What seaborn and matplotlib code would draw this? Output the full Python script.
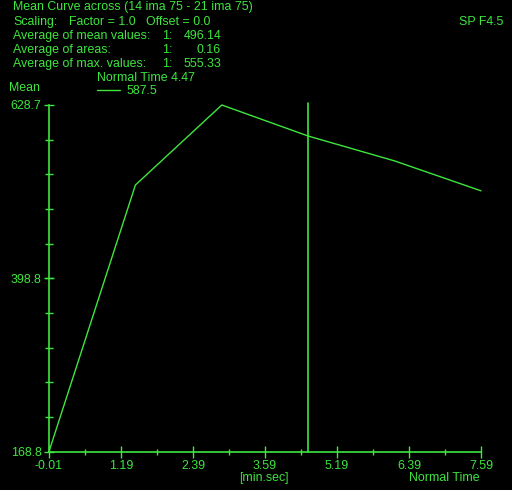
import numpy as np
import pandas as pd
import matplotlib
matplotlib.use('Agg')
import matplotlib.pyplot as plt
import seaborn as sns

# curve values
times = [-0.01, 1.51, 3.03, 4.55, 6.07, 7.59]
means = [168.8, 522.5, 628.7, 587.5, 554.5, 514.8]
normal_time = 4.55
x_ticks = ['-0.01', '1.19', '2.39', '3.59', '5.19', '6.39', '7.59']
y_ticks = ['168.8', '398.8', '628.7']

GREEN = '#3ee63e'
W, H = 512, 490
FS = 8.9

sns.set_theme(style='dark', rc={'figure.facecolor': 'black', 'axes.facecolor': 'black'})
plt.rcParams['font.family'] = ['Liberation Sans', 'DejaVu Sans']
plt.rcParams['font.size'] = FS

fig = plt.figure(figsize=(W / 100, H / 100), dpi=100)
ax = fig.add_axes([49 / W, 1 - 451.5 / H, 432 / W, 346.5 / H])

df = pd.DataFrame({'time': times, 'mean': means})
sns.lineplot(data=df, x='time', y='mean', ax=ax, color=GREEN, linewidth=1.0,
             clip_on=False, legend=False)
ax.axvline(normal_time, ymin=0, ymax=1.005, color=GREEN, linewidth=1.2, clip_on=False)

ax.set_xlim(-0.01, 7.59)
ax.set_ylim(168.8, 628.7)

xt = np.linspace(-0.01, 7.59, len(x_ticks))
ax.set_xticks(xt)
ax.set_xticklabels(x_ticks)
ax.set_xticks((xt[:-1] + xt[1:]) / 2, minor=True)
yv = [float(v) for v in y_ticks]
ax.set_yticks(yv)
ax.set_yticklabels(y_ticks)
ax.set_yticks(np.linspace(yv[0], yv[-1], 11), minor=True)

ax.tick_params(axis='both', which='both', bottom=True, left=True)
ax.tick_params(axis='x', which='major', direction='inout', length=8, width=1,
               color=GREEN, labelcolor=GREEN, labelsize=FS, pad=2)
ax.tick_params(axis='x', which='minor', direction='inout', length=4, width=1,
               color=GREEN)
ax.tick_params(axis='y', which='major', direction='inout', length=7, width=1,
               color=GREEN, labelcolor=GREEN, labelsize=FS, pad=2)
ax.tick_params(axis='y', which='minor', direction='inout', length=6, width=1,
               color=GREEN)
ax.set_xlabel('')
ax.set_ylabel('')
ax.grid(False)
for s in ['top', 'right']:
    ax.spines[s].set_visible(False)
for s in ['left', 'bottom']:
    ax.spines[s].set_color(GREEN)
    ax.spines[s].set_linewidth(1.2)


def put(x, y, s, ha='left'):
    fig.text(x / W, 1 - y / H, s, color=GREEN, ha=ha, va='center', fontsize=FS)


put(13, 7, 'Mean Curve across (14 ima 75 - 21 ima 75)')
put(13, 22, 'Scaling:')
put(69, 22, 'Factor = 1.0')
put(146, 22, 'Offset = 0.0')
put(459, 22, 'SP F4.5')
rows = [('Average of mean values:', '496.14'),
        ('Average of areas:', '0.16'),
        ('Average of max. values:', '555.33')]
for i, (lab, val) in enumerate(rows):
    y = 36 + i * 14
    put(13, y, lab)
    put(162, y, '1:')
    put(221, y, val, ha='right')
put(97, 78, 'Normal Time 4.47')
fig.add_artist(plt.Line2D([97 / W, 120 / W], [1 - 90 / H, 1 - 90 / H], color=GREEN, linewidth=1))
put(127, 91, '587.5')
put(9, 88, 'Mean')
put(264, 478, '[min.sec]', ha='center')
put(480, 478, 'Normal Time', ha='right')

fig.savefig('out.png', dpi=100, facecolor='black')
